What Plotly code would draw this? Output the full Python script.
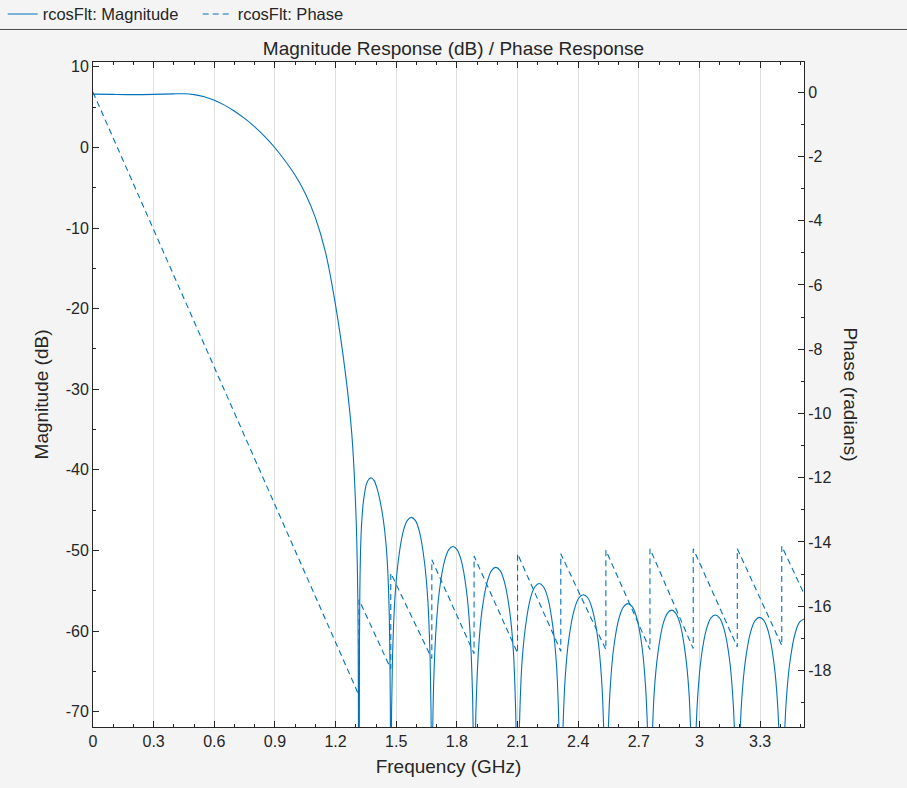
import plotly.graph_objects as go
from plotly.subplots import make_subplots

# Magnitude response (dB), one row per lobe
mag_freq_ghz = [
    # main lobe
    0.000, 0.100, 0.200, 0.300, 0.400, 0.450, 0.500, 0.550, 0.600, 0.650, 0.700, 0.750, 0.800, 0.850,
    0.900, 0.950, 1.000, 1.050, 1.100, 1.150, 1.200, 1.250, 1.280, 1.300, 1.310, 1.316,
    # sidelobes
    1.318, 1.320, 1.323, 1.328, 1.336, 1.344, 1.352, 1.365, 1.377, 1.390, 1.404, 1.418, 1.435, 1.448,
    1.458, 1.465, 1.469, 1.471, 1.473,
    1.476, 1.481, 1.493, 1.510, 1.534, 1.554, 1.574, 1.595, 1.615, 1.639, 1.656, 1.668, 1.673, 1.676,
    1.679, 1.684, 1.697, 1.714, 1.739, 1.760, 1.780, 1.801, 1.822, 1.847, 1.864, 1.877, 1.882, 1.885,
    1.888, 1.894, 1.907, 1.924, 1.950, 1.971, 1.992, 2.014, 2.035, 2.061, 2.079, 2.091, 2.097, 2.100,
    2.103, 2.109, 2.121, 2.139, 2.164, 2.186, 2.207, 2.228, 2.250, 2.275, 2.293, 2.305, 2.311, 2.314,
    2.317, 2.323, 2.336, 2.354, 2.381, 2.403, 2.425, 2.448, 2.470, 2.497, 2.515, 2.528, 2.534, 2.537,
    2.540, 2.546, 2.559, 2.576, 2.602, 2.624, 2.646, 2.668, 2.690, 2.716, 2.733, 2.746, 2.752, 2.755,
    2.758, 2.764, 2.776, 2.794, 2.819, 2.841, 2.862, 2.883, 2.905, 2.930, 2.948, 2.960, 2.966, 2.969,
    2.972, 2.978, 2.991, 3.008, 3.034, 3.056, 3.078, 3.100, 3.122, 3.148, 3.165, 3.178, 3.184, 3.187,
    3.190, 3.196, 3.209, 3.227, 3.253, 3.275, 3.297, 3.319, 3.341, 3.367, 3.385, 3.398, 3.404, 3.407,
    3.410, 3.416, 3.429, 3.447, 3.473, 3.495, 3.517,
]
mag_db = [
    6.62, 6.58, 6.55, 6.58, 6.65, 6.66, 6.55, 6.30, 5.85, 5.25, 4.50, 3.60, 2.55, 1.35,
    -0.04, -1.65, -3.45, -5.70, -8.70, -13.0, -19.6, -28.3, -35.5, -45.0, -56.0, -100,
    -62.0, -55.0, -50.5, -47.0, -44.3, -42.8, -41.8, -41.15, -41.0, -41.3, -42.2, -43.6, -46.0, -48.8,
    -52.5, -57.5, -64.0, -70.0, -100,
    -72.4, -63.9, -56.1, -51.3, -47.7, -46.3, -45.9, -46.3, -47.7, -51.3, -56.1, -63.9, -72.4, -100,
    -76.0, -67.5, -59.7, -54.9, -51.3, -49.9, -49.5, -49.9, -51.3, -54.9, -59.7, -67.5, -76.0, -100,
    -78.6, -70.1, -62.3, -57.5, -53.9, -52.5, -52.1, -52.5, -53.9, -57.5, -62.3, -70.1, -78.6, -100,
    -80.6, -72.1, -64.3, -59.5, -55.9, -54.5, -54.1, -54.5, -55.9, -59.5, -64.3, -72.1, -80.6, -100,
    -82.0, -73.5, -65.7, -60.9, -57.3, -55.9, -55.5, -55.9, -57.3, -60.9, -65.7, -73.5, -82.0, -100,
    -83.1, -74.6, -66.8, -62.0, -58.4, -57.0, -56.6, -57.0, -58.4, -62.0, -66.8, -74.6, -83.1, -100,
    -83.9, -75.4, -67.6, -62.8, -59.2, -57.8, -57.4, -57.8, -59.2, -62.8, -67.6, -75.4, -83.9, -100,
    -84.5, -76.0, -68.2, -63.4, -59.8, -58.4, -58.0, -58.4, -59.8, -63.4, -68.2, -76.0, -84.5, -100,
    -84.8, -76.3, -68.5, -63.7, -60.1, -58.7, -58.3, -58.7, -60.1, -63.7, -68.5, -76.3, -84.8, -100,
    -85.0, -76.5, -68.7, -63.9, -60.3, -58.9, -58.5,
]

# Phase response (radians): sawtooth vertices, jumps at the magnitude nulls
phase_freq_ghz = [0.000, 1.316, 1.316, 1.473, 1.473, 1.676, 1.676, 1.885, 1.885, 2.100, 2.100, 2.314,
                  2.314, 2.537, 2.537, 2.755, 2.755, 2.969, 2.969, 3.187, 3.187, 3.407, 3.407, 3.517]
phase_rad = [0.00, -18.78, -15.80, -17.95, -14.97, -17.63, -14.55, -17.48, -14.44, -17.46, -14.37, -17.40,
             -14.37, -17.35, -14.26, -17.35, -14.21, -17.32, -14.21, -17.27, -14.21, -17.22, -14.13, -15.61]

x_tick_vals = [0, 0.3, 0.6, 0.9, 1.2, 1.5, 1.8, 2.1, 2.4, 2.7, 3.0, 3.3]
x_tick_text = ["0", "0.3", "0.6", "0.9", "1.2", "1.5", "1.8", "2.1", "2.4", "2.7", "3", "3.3"]
mag_tick_vals = [10, 0, -10, -20, -30, -40, -50, -60, -70]
mag_tick_text = ["10", "0", "-10", "-20", "-30", "-40", "-50", "-60", "-70"]
phase_tick_vals = [0, -2, -4, -6, -8, -10, -12, -14, -16, -18]
phase_tick_text = ["0", "-2", "-4", "-6", "-8", "-10", "-12", "-14", "-16", "-18"]

blue = "#0072BD"
ink = "#262626"
font = "Liberation Sans, Arial, sans-serif"

fig = make_subplots(specs=[[{"secondary_y": True}]])

fig.add_trace(
    go.Scatter(x=mag_freq_ghz, y=mag_db, name="rcosFlt: Magnitude", mode="lines",
               line=dict(color=blue, width=1.1, shape="spline", smoothing=0.8)),
    secondary_y=False,
)
fig.add_trace(
    go.Scatter(x=phase_freq_ghz, y=phase_rad, name="rcosFlt: Phase", mode="lines",
               line=dict(color=blue, width=1.1, dash="6px,4px")),
    secondary_y=True,
)

fig.update_layout(
    width=907, height=788,
    margin=dict(l=93, r=103, t=62, b=61, autoexpand=False),
    paper_bgcolor="#f4f4f4", plot_bgcolor="white",
    font=dict(family=font, size=16, color=ink),
    title=dict(text="Magnitude Response (dB) / Phase Response", x=0.5, xanchor="center",
               y=1 - 48 / 788, yanchor="middle", font=dict(size=19, color=ink)),
    legend=dict(orientation="h", x=-0.127, xanchor="left", y=1.098, yanchor="top",
                bgcolor="rgba(0,0,0,0)", font=dict(size=16.5, color=ink),
                entrywidth=150, entrywidthmode="pixels"),
    showlegend=True,
)

# separator under the legend band
fig.add_shape(type="line", xref="paper", yref="paper", x0=-0.135, x1=1.15, y0=1.0489, y1=1.0489,
              line=dict(color="#4a4a4a", width=1))

# right axis title reads top to bottom
fig.add_annotation(text="Phase (radians)", xref="paper", yref="paper", x=1.0647, y=0.5,
                   xanchor="center", yanchor="middle", textangle=90, showarrow=False,
                   font=dict(size=19, color=ink))

fig.update_xaxes(
    domain=[0, 1], range=[0, 3.517], tickvals=x_tick_vals, ticktext=x_tick_text,
    ticks="inside", ticklen=6, tickcolor=ink, showline=True, linecolor=ink, linewidth=1,
    mirror="ticks", showgrid=True, gridcolor="#dedede", gridwidth=1, zeroline=False,
    minor=dict(ticks="inside", ticklen=3, tickcolor=ink, dtick=0.1, tick0=0, showgrid=False),
    title=dict(text="Frequency (GHz)", standoff=10, font=dict(size=19)),
    tickfont=dict(size=16),
)
fig.update_yaxes(
    range=[-71.9, 10.6], tickvals=mag_tick_vals, ticktext=mag_tick_text, ticks="inside", ticklen=6,
    tickcolor=ink, showline=True, linecolor=ink, linewidth=1, showgrid=False, zeroline=False,
    minor=dict(ticks="inside", ticklen=3, tickcolor=ink, dtick=5, tick0=0, showgrid=False),
    title=dict(text="Magnitude (dB)", standoff=12, font=dict(size=19)),
    tickfont=dict(size=16),
    secondary_y=False,
)
fig.update_yaxes(
    range=[-19.76, 0.94], tickvals=phase_tick_vals, ticktext=phase_tick_text, ticks="inside", ticklen=6,
    tickcolor=ink, showline=True, linecolor=ink, linewidth=1, showgrid=False, zeroline=False,
    minor=dict(ticks="inside", ticklen=3, tickcolor=ink, dtick=1, tick0=0, showgrid=False),
    tickfont=dict(size=16),
    secondary_y=True,
)

# page without the default body margin, so the figure sits at the window's corner
fig.write_html("out.html", config={"displayModeBar": False},
               post_script="document.body.style.margin='0';")
